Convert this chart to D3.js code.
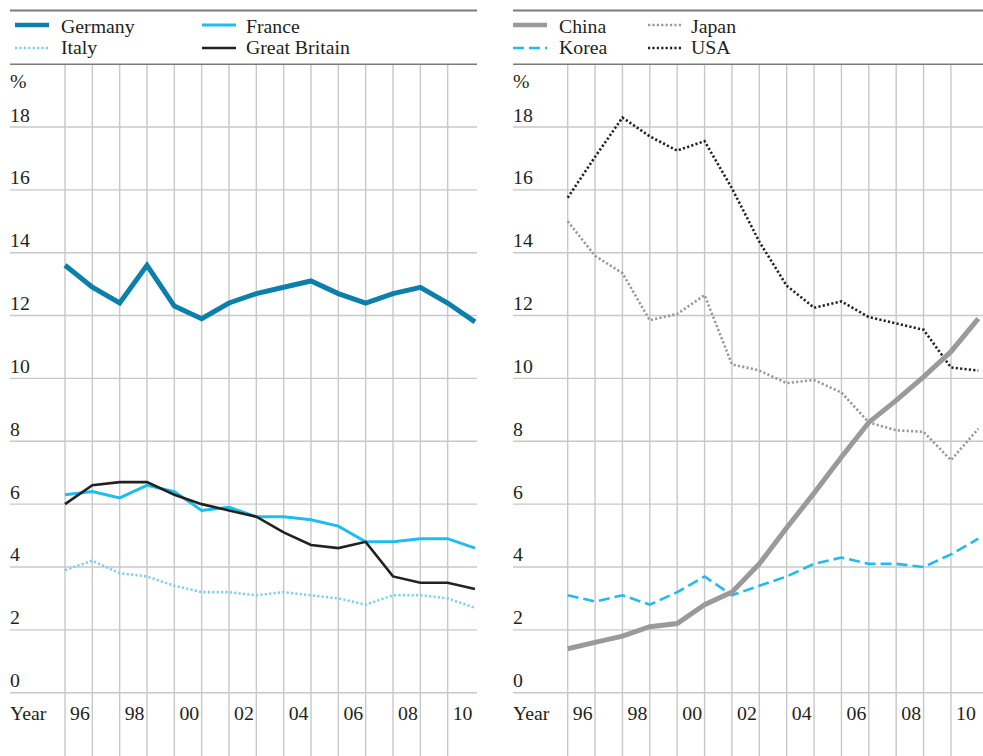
<!DOCTYPE html>
<html>
<head>
<meta charset="utf-8">
<script src="https://cdn.jsdelivr.net/npm/d3@7"></script>
<style>
  html, body { margin: 0; padding: 0; background: #fff; }
  svg text { font-family: "Liberation Serif", "Times New Roman", serif; }
</style>
</head>
<body>
<svg id="chart" width="983" height="756"></svg>
<script>
// ---- Data ----
const years = [1995, 1996, 1997, 1998, 1999, 2000, 2001, 2002, 2003, 2004, 2005, 2006, 2007, 2008, 2009, 2010];
const yearTickValues = [1996, 1998, 2000, 2002, 2004, 2006, 2008, 2010];
const yearTickLabels = ["96", "98", "00", "02", "04", "06", "08", "10"];
const valueTicks = [0, 2, 4, 6, 8, 10, 12, 14, 16, 18];

const germany = [13.6, 12.9, 12.4, 13.6, 12.3, 11.9, 12.4, 12.7, 12.9, 13.1, 12.7, 12.4, 12.7, 12.9, 12.4, 11.8];
const france  = [6.3, 6.4, 6.2, 6.6, 6.4, 5.8, 5.9, 5.6, 5.6, 5.5, 5.3, 4.8, 4.8, 4.9, 4.9, 4.6];
const italy   = [3.9, 4.2, 3.8, 3.7, 3.4, 3.2, 3.2, 3.1, 3.2, 3.1, 3.0, 2.8, 3.1, 3.1, 3.0, 2.7];
const greatBritain = [6.0, 6.6, 6.7, 6.7, 6.3, 6.0, 5.8, 5.6, 5.1, 4.7, 4.6, 4.8, 3.7, 3.5, 3.5, 3.3];

const china = [1.4, 1.6, 1.8, 2.1, 2.2, 2.8, 3.2, 4.1, 5.25, 6.35, 7.5, 8.6, 9.3, 10.05, 10.85, 11.9];
const korea = [3.1, 2.9, 3.1, 2.8, 3.2, 3.7, 3.1, 3.4, 3.7, 4.1, 4.3, 4.1, 4.1, 4.0, 4.4, 4.9];
const japan = [15.0, 13.9, 13.35, 11.85, 12.05, 12.65, 10.45, 10.25, 9.85, 9.95, 9.55, 8.6, 8.35, 8.3, 7.4, 8.4];
const usa   = [15.75, 17.05, 18.3, 17.7, 17.25, 17.55, 16.05, 14.35, 12.95, 12.25, 12.45, 11.95, 11.75, 11.55, 10.35, 10.25];

// ---- Styles ----
const styles = {
  Germany: { color: "#0c7faa", width: 5, dash: null },
  France: { color: "#1fbdee", width: 3, dash: null },
  Italy: { color: "#7dd0f3", width: 2.6, dash: "2.2,2.2" },
  "Great Britain": { color: "#222222", width: 2.6, dash: null },
  China: { color: "#9a9a9b", width: 5, dash: null },
  Korea: { color: "#1fbdee", width: 2.6, dash: "11,5" },
  Japan: { color: "#9a9a9b", width: 2.6, dash: "2.2,2.2" },
  USA: { color: "#222222", width: 2.6, dash: "2.2,2.2" }
};

const panels = [
  {
    left: 10, right: 477, x0: 65, x1: 475,
    series: [
      { name: "Germany", values: germany },
      { name: "France", values: france },
      { name: "Italy", values: italy },
      { name: "Great Britain", values: greatBritain }
    ],
    legend: [
      { name: "Germany", sx: 15, tx: 61, row: 0 },
      { name: "Italy", sx: 15, tx: 61, row: 1 },
      { name: "France", sx: 202, tx: 246, row: 0 },
      { name: "Great Britain", sx: 202, tx: 246, row: 1 }
    ],
    drawOrder: ["Italy", "France", "Great Britain", "Germany"]
  },
  {
    left: 513, right: 983, x0: 567.7, x1: 978.3,
    series: [
      { name: "China", values: china },
      { name: "Korea", values: korea },
      { name: "Japan", values: japan },
      { name: "USA", values: usa }
    ],
    legend: [
      { name: "China", sx: 513, tx: 559, row: 0 },
      { name: "Korea", sx: 513, tx: 559, row: 1 },
      { name: "Japan", sx: 648, tx: 691, row: 0 },
      { name: "USA", sx: 648, tx: 691, row: 1 }
    ],
    drawOrder: ["Japan", "USA", "Korea", "China"]
  }
];

const svg = d3.select("#chart");
const y = d3.scaleLinear().domain([0, 18]).range([692.7, 127]);
const gridColor = "#c8c8c8";
const ruleColor = "#7a7a7a";
const textColor = "#231f20";
const fontSize = 19.8;

panels.forEach(p => {
  const x = d3.scaleLinear().domain([years[0], years[years.length - 1]]).range([p.x0, p.x1]);
  const g = svg.append("g");

  // top rule and legend rule
  g.append("line").attr("x1", p.left).attr("x2", p.right).attr("y1", 10.5).attr("y2", 10.5)
    .attr("stroke", ruleColor).attr("stroke-width", 2);
  g.append("line").attr("x1", p.left).attr("x2", p.right).attr("y1", 64.3).attr("y2", 64.3)
    .attr("stroke", ruleColor).attr("stroke-width", 1.5);

  // vertical gridlines (each year except last)
  g.append("g").selectAll("line").data(years.slice(0, -1)).join("line")
    .attr("x1", d => x(d)).attr("x2", d => x(d))
    .attr("y1", 65).attr("y2", 756)
    .attr("stroke", gridColor).attr("stroke-width", 1.4);

  // horizontal gridlines
  g.append("g").selectAll("line").data(valueTicks).join("line")
    .attr("x1", p.left).attr("x2", p.right)
    .attr("y1", d => y(d)).attr("y2", d => y(d))
    .attr("stroke", gridColor).attr("stroke-width", 1.4);

  // y tick labels
  g.append("g").selectAll("text").data(valueTicks).join("text")
    .attr("x", p.left).attr("y", d => y(d) - 5.5)
    .attr("font-size", fontSize).attr("fill", textColor)
    .text(d => d);
  g.append("text").attr("x", p.left).attr("y", 88)
    .attr("font-size", fontSize).attr("fill", textColor).text("%");

  // x tick labels
  g.append("text").attr("x", p.left).attr("y", 720)
    .attr("font-size", fontSize).attr("fill", textColor).text("Year");
  g.append("g").selectAll("text").data(yearTickValues).join("text")
    .attr("x", d => x(d) - 2.5).attr("y", 720)
    .attr("text-anchor", "end")
    .attr("font-size", fontSize).attr("fill", textColor)
    .text((d, i) => yearTickLabels[i]);

  // lines
  const line = d3.line().x((d, i) => x(years[i])).y(d => y(d));
  p.drawOrder.forEach(name => {
    const s = p.series.find(q => q.name === name);
    const st = styles[name];
    g.append("path").datum(s.values)
      .attr("d", line)
      .attr("fill", "none")
      .attr("stroke", st.color)
      .attr("stroke-width", st.width)
      .attr("stroke-dasharray", st.dash)
      .attr("stroke-linejoin", "miter");
  });

  // legend
  p.legend.forEach(l => {
    const st = styles[l.name];
    const ly = l.row === 0 ? 25 : 48;
    g.append("line")
      .attr("x1", l.sx).attr("x2", l.sx + 34)
      .attr("y1", ly).attr("y2", ly)
      .attr("stroke", st.color)
      .attr("stroke-width", st.width === 5 ? 4.5 : st.width)
      .attr("stroke-dasharray", st.dash);
    g.append("text").attr("x", l.tx).attr("y", l.row === 0 ? 33.3 : 54.3)
      .attr("font-size", fontSize).attr("fill", textColor).text(l.name);
  });
});
</script>
</body>
</html>
